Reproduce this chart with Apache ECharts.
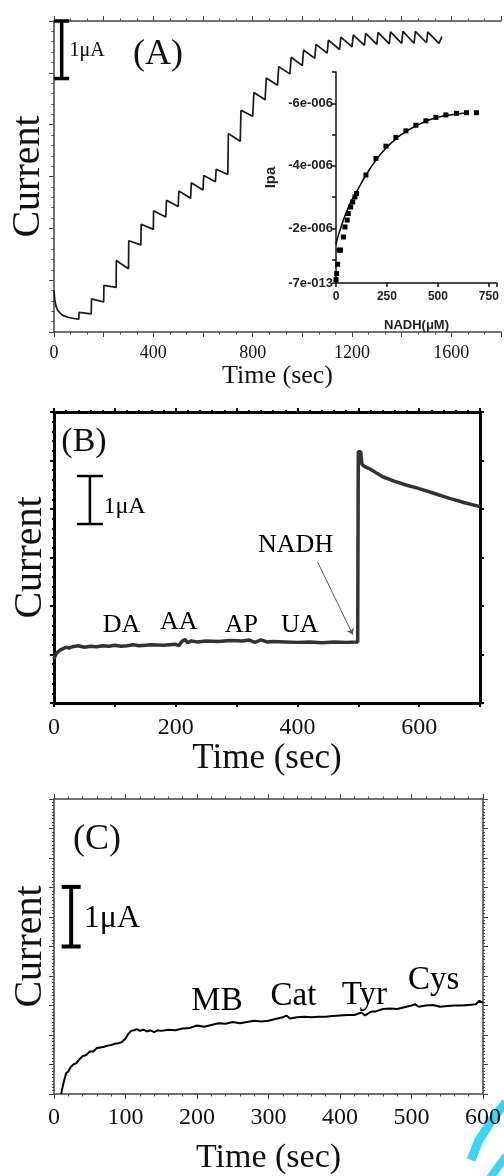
<!DOCTYPE html>
<html><head><meta charset="utf-8">
<script src="https://cdn.jsdelivr.net/npm/echarts/dist/echarts.min.js"></script>
<style>html,body{margin:0;padding:0;background:#fff}#c{width:504px;height:1176px}</style>
</head><body><div id="c"></div>
<script>
// ---------- DATA ----------
// Panel A: amperometric trace (time s, current in tick units)
const aTrace = [[0,0.80],[3,0.62],[8,0.50],[15,0.42],[25,0.36],[40,0.31],[60,0.28],[80,0.26],[100,0.25],
 [101,0.38],[150,0.35],[151,0.64],[200,0.58],[201,0.90],[250,0.86],[251,1.38],[300,1.22],[301,1.76],[350,1.68],
 [351,2.08],[400,1.98],[401,2.34],[450,2.22],[453,2.54],[500,2.42],[503,2.72],[550,2.58],[553,2.88],[600,2.74],
 [603,3.02],[650,2.90],[653,3.14],[700,3.04],[702,3.83],[750,3.68],[753,4.28],[800,4.16],[805,4.62],[850,4.48],
 [855,4.90],[900,4.76],[905,5.12],[950,4.98],[955,5.30],[1000,5.14],[1005,5.44],[1050,5.28],[1055,5.55],[1100,5.38],
 [1105,5.63],[1150,5.45],[1155,5.69],[1200,5.50],[1205,5.73],[1250,5.53],[1255,5.76],[1300,5.55],[1305,5.78],
 [1350,5.56],[1355,5.79],[1400,5.57],[1405,5.80],[1450,5.57],[1455,5.80],[1500,5.58],[1505,5.79],[1550,5.57],[1562,5.70]];
const aTickLabels = ['0','400','800','1200','1600'];

// Inset: calibration (NADH uM, Ipa A)
const insetNADH = [0,3,8,16,22,36,44,55,60,72,82,93,101,147,196,245,294,343,392,441,490,539,591,640,689];
const insetIpa = [-0.37e-6,-0.56e-6,-0.86e-6,-1.31e-6,-1.31e-6,-1.73e-6,-2.05e-6,-2.27e-6,-2.48e-6,-2.69e-6,-2.85e-6,
 -3.01e-6,-3.12e-6,-3.71e-6,-4.24e-6,-4.63e-6,-4.91e-6,-5.12e-6,-5.30e-6,-5.44e-6,-5.55e-6,-5.63e-6,-5.68e-6,-5.70e-6,-5.70e-6];
const insetFitNADH = [0,10,20,35,52,75,101,147,200,250,300,350,400,450,500,550,600,650];
const insetFitIpa = [-1.5e-6,-1.75e-6,-1.95e-6,-2.25e-6,-2.53e-6,-2.88e-6,-3.17e-6,-3.71e-6,-4.22e-6,-4.6e-6,-4.9e-6,
 -5.13e-6,-5.3e-6,-5.45e-6,-5.55e-6,-5.62e-6,-5.67e-6,-5.7e-6];
const insetXLabels = ['0','250','500','750'];
const insetYTicks = [-0.26e-6,-2e-6,-4e-6,-6e-6];
const insetYLabels = ['-7e-013','-2e-006','-4e-006','-6e-006'];

// Panel B: interference trace
const bTrace = [[0,0.90],[2,0.98],[5,1.04],[10,1.09],[15,1.12],[20,1.15],[25,1.13],[30,1.16],[40,1.18],[50,1.15],[60,1.17],
 [70,1.16],[80,1.18],[90,1.17],[100,1.19],[110,1.17],[120,1.18],[130,1.20],[140,1.18],[160,1.20],[180,1.19],[200,1.21],
 [205,1.18],[210,1.27],[215,1.31],[220,1.24],[225,1.28],[235,1.26],[250,1.28],[270,1.27],[290,1.29],[310,1.28],[320,1.30],
 [330,1.25],[340,1.30],[350,1.26],[360,1.27],[380,1.26],[400,1.25],[420,1.26],[440,1.24],[460,1.26],[480,1.25],[499,1.26],
 [500,5.18],[504,5.18],[506,4.92],[510,4.88],[520,4.82],[530,4.74],[541,4.66],[560,4.57],[580,4.49],[600,4.42],[620,4.34],
 [650,4.22],[675,4.13],[700,4.05]];
const bTickLabels = ['0','200','400','600'];
const bLabels = [{name:'DA',t:111,v:1.61},{name:'AA',t:205,v:1.66},{name:'AP',t:308,v:1.61},{name:'UA',t:404,v:1.61},{name:'NADH',t:397,v:3.25}];
const bArrow = [[433,2.91],[491,1.41]];

// Panel C: selectivity trace
const cTrace = [[10,0],[12,0.12],[14,0.22],[17,0.35],[20,0.38],[23,0.45],[27,0.50],[31,0.52],[35,0.58],[40,0.64],[45,0.66],
 [50,0.72],[55,0.72],[60,0.78],[65,0.79],[70,0.80],[75,0.82],[80,0.83],[85,0.85],[90,0.86],[95,0.88],[100,0.94],[104,1.02],
 [108,1.07],[112,1.08],[116,1.10],[120,1.07],[125,1.09],[130,1.06],[135,1.08],[140,1.05],[145,1.08],[150,1.07],[160,1.09],
 [170,1.08],[180,1.11],[190,1.12],[200,1.16],[210,1.14],[220,1.17],[230,1.20],[240,1.19],[250,1.22],[260,1.20],[270,1.22],
 [280,1.24],[290,1.23],[300,1.24],[310,1.27],[320,1.30],[325,1.33],[330,1.28],[340,1.30],[350,1.31],[360,1.30],[370,1.31],
 [380,1.31],[390,1.32],[400,1.33],[410,1.34],[420,1.34],[425,1.36],[430,1.38],[435,1.33],[440,1.37],[445,1.40],[450,1.40],
 [460,1.44],[470,1.45],[480,1.44],[490,1.47],[500,1.50],[505,1.52],[510,1.48],[520,1.50],[530,1.51],[540,1.48],[550,1.49],
 [560,1.50],[570,1.50],[580,1.51],[590,1.52],[595,1.58],[600,1.55]];
const cTickLabels = ['0','100','200','300','400','500','600'];
const cLabels = [{name:'MB',t:228,v:1.57},{name:'Cat',t:335,v:1.65},{name:'Tyr',t:434,v:1.68},{name:'Cys',t:531,v:1.93}];

// scale bars: [x, yBottom, yTop]
const aScaleBar = [[31,4.89,6.0]];
const bScaleBar = [[59,3.69,4.68]];
const cScaleBar = [[24,2.50,3.51]];
const scaleText = '1μA';

// ---------- CHART ----------
const serif = '"Liberation Serif","Times New Roman",serif';
const sans = '"Liberation Sans",Arial,sans-serif';
const chart = echarts.init(document.getElementById('c'), null, {renderer:'canvas'});

function barRenderer(capHalf, lw){
  return function(params, api){
    const x = api.value(0), y0 = api.value(1), y1 = api.value(2);
    const p0 = api.coord([x,y0]), p1 = api.coord([x,y1]);
    const st = {stroke:'#000', lineWidth:lw};
    return {type:'group', children:[
      {type:'line', shape:{x1:p0[0],y1:p0[1],x2:p1[0],y2:p1[1]}, style:st},
      {type:'line', shape:{x1:p0[0]-capHalf,y1:p0[1],x2:p0[0]+capHalf,y2:p0[1]}, style:st},
      {type:'line', shape:{x1:p1[0]-capHalf,y1:p1[1],x2:p1[0]+capHalf,y2:p1[1]}, style:st}
    ]};
  };
}
function frameAxis(o){
  return Object.assign({
    type:'value', splitLine:{show:false},
    axisLine:{show:true, onZero:false, lineStyle:{color:o.color||'#333', width:o.lw||1.5}},
    axisTick:{show:true, inside:false, length:o.tl||5, lineStyle:{color:o.color||'#333', width:o.tw||1}},
    minorTick:{show:true, splitNumber:o.minor||5, length:o.ml||2.5, lineStyle:{color:o.color||'#333', width:o.tw||1}},
  }, o.extra);
}
function textSeries(xi, yi, arr, size){
  return {type:'scatter', xAxisIndex:xi, yAxisIndex:yi, symbolSize:0, silent:true,
    itemStyle:{opacity:1},
    data:arr.map(d=>({name:d.name, value:[d.t,d.v]})),
    label:{show:true, position:'inside', formatter:'{b}', fontFamily:serif, fontSize:size, color:'#000', opacity:1}};
}

const option = {
  animation:false,
  backgroundColor:'#fff',
  grid:[
    {left:54, top:21, width:450, height:311},
    {left:336, top:72, width:161, height:211},
    {left:54, top:412, width:426, height:291},
    {left:54, top:799, width:431, height:303}
  ],
  xAxis:[
    frameAxis({color:'#444', minor:3, extra:{gridIndex:0, position:'bottom', min:0, max:1800, interval:200,
      name:'Time (sec)', nameLocation:'middle', nameGap:28, nameTextStyle:{fontFamily:serif, fontSize:26, color:'#111'},
      axisLabel:{margin:12, fontFamily:serif, fontSize:18, color:'#111', formatter:v=>aTickLabels.includes(String(v))?String(v):''}}}),
    frameAxis({color:'#444', minor:3, extra:{gridIndex:0, position:'top', min:0, max:1800, interval:200, axisLabel:{show:false}}}),
    {type:'value', gridIndex:1, min:0, max:790, interval:250, splitLine:{show:false},
      axisLine:{onZero:false, lineStyle:{color:'#111', width:1.5}}, axisTick:{length:4, lineStyle:{color:'#111', width:1.5}},
      name:'NADH(μM)', nameLocation:'middle', nameGap:36, nameTextStyle:{fontFamily:sans, fontWeight:'bold', fontSize:13, color:'#222'},
      axisLabel:{margin:8, fontFamily:sans, fontWeight:'bold', fontSize:12, color:'#222', formatter:v=>insetXLabels.includes(String(v))?String(v):''}},
    frameAxis({color:'#000', lw:3, tl:4, tw:2, ml:2, minor:5, extra:{gridIndex:2, position:'bottom', min:0, max:700, interval:100,
      name:'Time (sec)', nameLocation:'middle', nameGap:37, nameTextStyle:{fontFamily:serif, fontSize:35, color:'#111'},
      axisLabel:{margin:13, fontFamily:serif, fontSize:24, color:'#111', formatter:v=>bTickLabels.includes(String(v))?String(v):''}}}),
    frameAxis({color:'#000', lw:3, tl:4, tw:2, ml:2, minor:5, extra:{gridIndex:2, position:'top', min:0, max:700, interval:100, axisLabel:{show:false}}}),
    frameAxis({color:'#444', minor:5, extra:{gridIndex:3, position:'bottom', min:0, max:600, interval:100,
      name:'Time (sec)', nameLocation:'middle', nameGap:47, nameTextStyle:{fontFamily:serif, fontSize:34, color:'#111'},
      axisLabel:{margin:12, fontFamily:serif, fontSize:24, color:'#111', formatter:v=>cTickLabels.includes(String(v))?String(v):''}}}),
    frameAxis({color:'#444', minor:5, extra:{gridIndex:3, position:'top', min:0, max:600, interval:100, axisLabel:{show:false}}})
  ],
  yAxis:[
    frameAxis({color:'#444', minor:5, extra:{gridIndex:0, position:'left', min:0, max:6, interval:1, axisLabel:{show:false},
      name:'Current', nameLocation:'middle', nameGap:6, nameTextStyle:{fontFamily:serif, fontSize:40, color:'#111'}}}),
    {type:'value', gridIndex:1, inverse:true, min:-7e-6, max:-0.26e-6, interval:1e-6, splitLine:{show:false},
      axisLine:{onZero:false, lineStyle:{color:'#111', width:1.5}}, axisTick:{length:4, lineStyle:{color:'#111', width:1.5}},
      name:'Ipa', nameLocation:'middle', nameGap:58, nameTextStyle:{fontFamily:sans, fontWeight:'bold', fontSize:15, color:'#222'},
      axisLabel:{margin:3, fontFamily:sans, fontWeight:'bold', fontSize:13, color:'#222',
        formatter:v=>{for(let i=0;i<insetYTicks.length;i++){if(Math.abs(v-insetYTicks[i])<1e-9) return insetYLabels[i];} return '';}}},
    frameAxis({color:'#000', lw:3, tl:4, tw:2, ml:2, minor:5, extra:{gridIndex:2, position:'left', min:0, max:6, interval:1, axisLabel:{show:false},
      name:'Current', nameLocation:'middle', nameGap:4, nameTextStyle:{fontFamily:serif, fontSize:40, color:'#111'}}}),
    frameAxis({color:'#000', lw:3, tl:4, tw:2, ml:2, minor:5, extra:{gridIndex:2, position:'right', min:0, max:6, interval:1, axisLabel:{show:false}}}),
    frameAxis({color:'#444', minor:9, ml:2, extra:{gridIndex:3, position:'left', min:0, max:5, interval:0.5, axisLabel:{show:false},
      name:'Current', nameLocation:'middle', nameGap:4, nameTextStyle:{fontFamily:serif, fontSize:40, color:'#111'}}}),
    frameAxis({color:'#444', minor:9, ml:2, extra:{gridIndex:3, position:'right', min:0, max:5, interval:0.5, axisLabel:{show:false}}})
  ],
  series:[
    {type:'line', xAxisIndex:0, yAxisIndex:0, data:aTrace, showSymbol:false, silent:true, lineStyle:{color:'#1a1a1a', width:1.7}},
    {type:'custom', xAxisIndex:0, yAxisIndex:0, data:aScaleBar, renderItem:barRenderer(7.5,3.5), silent:true},
    textSeries(0,0,[{name:scaleText,t:133,v:5.43}],20),
    {type:'scatter', xAxisIndex:2, yAxisIndex:1, data:insetNADH.map((x,i)=>[x,insetIpa[i]]), symbol:'rect', symbolSize:5, itemStyle:{color:'#000', opacity:1}, silent:true},
    {type:'line', xAxisIndex:2, yAxisIndex:1, data:insetFitNADH.map((x,i)=>[x,insetFitIpa[i]]), smooth:true, showSymbol:false, silent:true, lineStyle:{color:'#000', width:1.5}},
    {type:'line', xAxisIndex:3, yAxisIndex:2, data:bTrace, showSymbol:false, silent:true, lineStyle:{color:'#333', width:3.5}},
    {type:'custom', xAxisIndex:3, yAxisIndex:2, data:bScaleBar, renderItem:barRenderer(13,2.5), silent:true},
    textSeries(3,2,[{name:scaleText,t:116,v:4.05}],24),
    textSeries(3,2,bLabels,26),
    {type:'lines', coordinateSystem:'cartesian2d', xAxisIndex:3, yAxisIndex:2, silent:true,
      data:[{coords:bArrow}], symbol:['none','arrow'], symbolSize:6, lineStyle:{color:'#555', width:1, opacity:1}},
    {type:'line', xAxisIndex:5, yAxisIndex:4, data:cTrace, showSymbol:false, silent:true, lineStyle:{color:'#000', width:2}},
    {type:'custom', xAxisIndex:5, yAxisIndex:4, data:cScaleBar, renderItem:barRenderer(9.5,4), silent:true},
    textSeries(5,4,[{name:scaleText,t:81,v:2.98}],32),
    textSeries(5,4,cLabels,33)
  ],
  graphic:[
    {type:'text', style:{text:'(A)', x:158, y:55, align:'center', verticalAlign:'middle', fontFamily:serif, fontSize:36, fill:'#111'}},
    {type:'text', style:{text:'(B)', x:84, y:442, align:'center', verticalAlign:'middle', fontFamily:serif, fontSize:34, fill:'#111'}},
    {type:'text', style:{text:'(C)', x:97, y:840, align:'center', verticalAlign:'middle', fontFamily:serif, fontSize:36, fill:'#111'}},
    {type:'polyline', shape:{points:[[506,1102],[492,1120],[479,1140],[471,1160]]}, style:{stroke:'#3fd2f2', lineWidth:9, fill:null}},
    {type:'polyline', shape:{points:[[490,1178],[506,1156]]}, style:{stroke:'#3fd2f2', lineWidth:8, fill:null}}
  ]
};
chart.setOption(option);
</script></body></html>
